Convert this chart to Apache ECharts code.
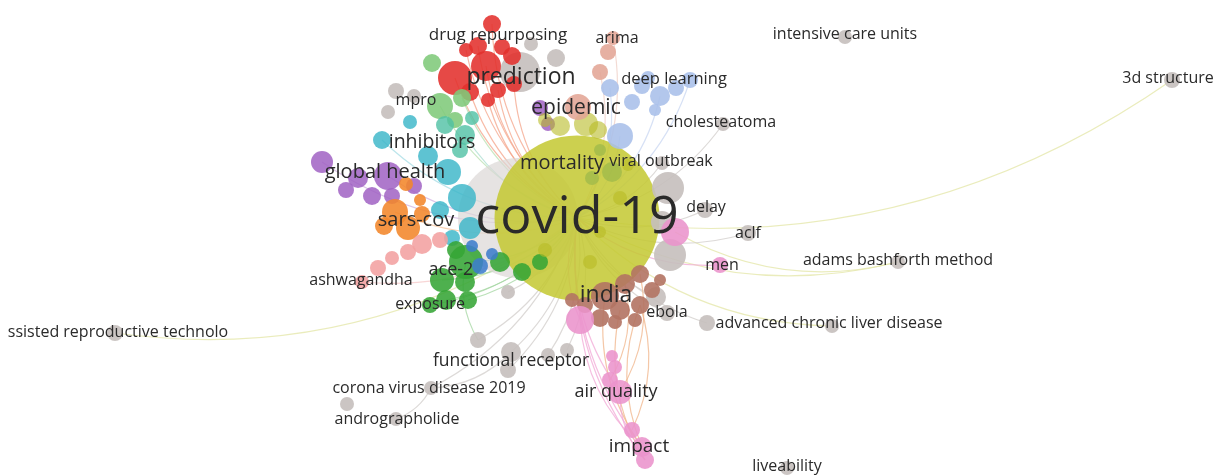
<!DOCTYPE html>
<html><head><meta charset="utf-8">
<script src="https://cdn.jsdelivr.net/npm/echarts@6/dist/echarts.min.js"></script>
<style>html,body{margin:0;padding:0;background:#fff}#c{width:1223px;height:475px}</style>
</head><body><div id="c"></div>
<script>
// ---- data: node positions on the map [x, y, diameter] per cluster ----
const backNodes   = [[518,218,120]];
const covidNode   = [[577,218,165]];
const greyNodes = [
  [520,72,40],[531,44,14],[556,58,18],[396,91,16],[414,96,14],[705,210,16],[748,233,16],
  [898,262,14],[845,37,14],[1172,80,16],[723,124,14],[662,163,14],[667,313,16],[656,297,20],
  [707,323,16],[832,326,14],[115,333,16],[787,468,14],[508,292,14],[478,340,16],[511,352,20],
  [508,370,16],[548,355,14],[567,350,14],[431,388,14],[347,404,14],[396,419,14],[668,188,32],
  [670,255,32],[662,222,22],[388,112,14]
];
const redNodes = [
  [492,24,18],[478,46,18],[502,47,16],[466,50,14],[455,78,34],[486,66,30],[512,56,18],
  [470,92,18],[498,90,16],[488,100,14],[514,84,16]
];
const lightGreenNodes = [[432,63,18],[440,106,26],[462,98,18],[455,120,16]];
const tealNodes   = [[445,125,18],[465,135,20],[472,118,14],[460,150,16]];
const cyanNodes   = [[382,140,18],[410,122,14],[428,156,20],[448,172,26],[462,198,28],[440,210,18],[470,228,22],[452,238,16]];
const purpleNodes = [[322,162,22],[358,178,20],[388,176,28],[372,196,18],[346,190,16],[392,196,16],[414,186,16],[540,108,16],[548,124,14]];
const orangeNodes = [[395,212,26],[408,228,24],[384,226,18],[406,184,14],[422,214,16],[420,200,12]];
const salmonNodes = [[422,244,20],[408,252,16],[392,258,14],[378,268,16],[362,282,14],[440,240,16]];
const greenNodes  = [[466,262,34],[442,280,24],[446,300,20],[430,305,16],[468,300,18],[456,250,18],[500,262,20],[522,272,18],[540,262,16],[465,282,20]];
const blueNodes   = [[480,266,16],[492,254,12],[472,246,12]];
const yellowNodes = [[560,126,20],[586,124,24],[598,130,18],[545,120,14],[620,198,14],[600,232,12],[590,262,14],[628,165,12],[545,250,14]];
const oliveNodes  = [[612,172,20],[592,178,14],[600,150,12]];
const peachNodes  = [[613,38,14],[608,52,16],[600,72,16],[578,107,26]];
const lightBlueNodes = [[610,88,18],[632,102,16],[642,86,16],[660,96,20],[676,88,16],[690,80,16],[620,136,26],[648,78,14],[655,110,12]];
const brownNodes  = [[640,274,18],[625,284,20],[605,296,28],[620,310,20],[640,305,18],[600,318,18],[585,305,16],[572,300,14],[652,290,16],[635,320,14],[615,322,14],[660,280,12]];
const pinkNodes   = [[675,232,28],[720,265,16],[580,320,28],[615,367,14],[610,380,16],[620,392,24],[632,430,16],[642,447,20],[645,460,18],[612,356,12]];

// ---- term labels [text, x, y, fontSize] ----
const terms = [
  ['covid-19',577,218,52],['prediction',521,77,23],['drug repurposing',498,35,17],['arima',617,38,16],
  ['intensive care units',845,34,16],['3d structure',1168,78,16],['deep learning',674,79,16.5],['mpro',416,100,16],
  ['epidemic',576,108,21],['cholesteatoma',721,122,16],['inhibitors',432,142,19.5],['mortality',562,163,20],
  ['viral outbreak',661,161,16],['global health',385,172,20],['delay',706,207,16],['sars-cov',416,220,20],
  ['aclf',748,233,16],['adams bashforth method',898,260,16],['ace-2',451,270,18],['men',722,265,16],
  ['ashwagandha',361,280,16],['india',606,295,23],['exposure',430,304,16],['ebola',667,312,16],
  ['advanced chronic liver disease',829,323,16],['ssisted reproductive technolo',118,332,16],
  ['functional receptor',511,361,17.5],['corona virus disease 2019',429,388,16],['andrographolide',397,419,16],
  ['air quality',616,392,18],['impact',639,447,19],['liveability',787,466,16]
];

// ---- links [sourceCluster, index, targetCluster, index] ----
const links = [
  ['covid',0,'grey',9],['covid',0,'grey',7],['covid',0,'grey',15],['covid',0,'grey',16],['pink',0,'grey',7],
  ['covid',0,'grey',5],['covid',0,'grey',6],['covid',0,'grey',10],['covid',0,'grey',11],['covid',0,'grey',12],
  ['covid',0,'grey',13],['covid',0,'grey',14],['covid',0,'grey',18],['covid',0,'grey',19],['covid',0,'grey',20],
  ['covid',0,'grey',21],['covid',0,'grey',22],['covid',0,'grey',23],['covid',0,'grey',24],
  ['grey',20,'grey',24],['grey',24,'grey',26],['green',0,'grey',19],
  ['covid',0,'red',0],['covid',0,'red',1],['covid',0,'red',4],['covid',0,'red',5],['covid',0,'red',7],
  ['covid',0,'red',8],['covid',0,'red',9],['covid',0,'red',10],['covid',0,'red',3],
  ['covid',0,'lightGreen',1],['covid',0,'lightGreen',2],['covid',0,'teal',1],['covid',0,'cyan',0],
  ['covid',0,'purple',0],['covid',0,'purple',2],['covid',0,'orange',0],['covid',0,'salmon',4],
  ['covid',0,'green',0],['covid',0,'green',1],['covid',0,'green',2],['covid',0,'green',3],['covid',0,'green',4],
  ['covid',0,'lightBlue',0],['covid',0,'lightBlue',3],['covid',0,'lightBlue',5],['covid',0,'lightBlue',6],
  ['covid',0,'peach',0],['covid',0,'peach',2],
  ['covid',0,'pink',1],['covid',0,'pink',2],['covid',0,'pink',5],['covid',0,'pink',7],['covid',0,'pink',8],
  ['brown',2,'pink',7],['brown',3,'pink',8],['brown',4,'pink',6],['brown',0,'pink',5],['pink',2,'pink',7],
  ['brown',4,'pink',7],['pink',5,'pink',8],['brown',1,'pink',4]
];

const clusters = {
  back:[backNodes,'#dcd7d6',0.7], covid:[covidNode,'#c4c832',0.86], grey:[greyNodes,'#c5bfbd',0.9],
  red:[redNodes,'#e2302c',0.88], lightGreen:[lightGreenNodes,'#7fc97a',0.88], teal:[tealNodes,'#4fc0a4',0.8],
  cyan:[cyanNodes,'#3ab6c8',0.82], purple:[purpleNodes,'#a061c3',0.85], orange:[orangeNodes,'#f2862a',0.88],
  salmon:[salmonNodes,'#f3a1a1',0.88], green:[greenNodes,'#36a535',0.88], blue:[blueNodes,'#3e7dcc',0.88],
  yellow:[yellowNodes,'#b7bb24',0.6], olive:[oliveNodes,'#97b54a',0.65], peach:[peachNodes,'#e3a595',0.88],
  lightBlue:[lightBlueNodes,'#a8bfe9',0.88], brown:[brownNodes,'#b27363',0.9], pink:[pinkNodes,'#ea93cc',0.88]
};
const linkColor = { grey:'#d2cdcb', red:'#f4a48a', lightGreen:'#b8e0b0', teal:'#a9ddd0', cyan:'#a6dce4',
  purple:'#d1b3e2', orange:'#f7c39a', salmon:'#f6c8c8', green:'#a3d6a0', lightBlue:'#c9d7f2',
  peach:'#efcfc5', pink:'#f2a8d6', brown:'#f0b48a', covid:'#e3e5a6' };
const farTargets = [9,7,15,16];

const order = ['back','covid','grey','red','lightGreen','teal','cyan','purple','orange','salmon','green','blue',
  'yellow','olive','peach','lightBlue','brown','pink'];
const nodes = [];
order.forEach(k => {
  const [arr, color, op] = clusters[k];
  arr.forEach((p, i) => nodes.push({ id: k + i, value: [p[0], p[1]], symbolSize: p[2],
    itemStyle: { color: color, opacity: op } }));
});
const pos = {}; nodes.forEach(n => pos[n.id] = n.value);
const edgeData = links.map(([sc, si, tc, ti]) => {
  const a = sc + si, b = tc + ti;
  const right = pos[a][0] >= pos[b][0];
  const other = sc === 'covid' ? tc : sc;
  let col = linkColor[other];
  if (sc === 'covid' && tc === 'grey' && farTargets.includes(ti)) col = linkColor.covid;
  if (sc === 'pink' && tc === 'grey') col = linkColor.covid;
  return { source: right ? a : b, target: right ? b : a,
    lineStyle: { color: col, opacity: 0.75, width: 1.2, curveness: 0.2 } };
});

const chart = echarts.init(document.getElementById('c'), null, { renderer: 'canvas' });
chart.setOption({
  animation: false,
  backgroundColor: '#ffffff',
  grid: { left: 0, right: 0, top: 0, bottom: 0 },
  xAxis: { type: 'value', min: 0, max: 1223, show: false },
  yAxis: { type: 'value', min: 0, max: 475, inverse: true, show: false },
  series: [
    { type: 'graph', coordinateSystem: 'cartesian2d', layout: 'none', silent: true,
      symbol: 'circle', data: nodes, links: edgeData, label: { show: false }, z: 2 },
    { type: 'scatter', silent: true, symbolSize: 2, itemStyle: { color: 'rgba(0,0,0,0)' }, z: 10,
      data: terms.map(t => ({ name: t[0], value: [t[1], t[2]],
        label: { fontSize: t[3] } })),
      label: { show: true, position: 'inside', formatter: '{b}', color: '#2a2a2a', opacity: 1,
        textBorderWidth: 0, fontFamily: 'Open Sans', fontWeight: 500 },
      labelLayout: { hideOverlap: false } }
  ]
});
</script></body></html>
